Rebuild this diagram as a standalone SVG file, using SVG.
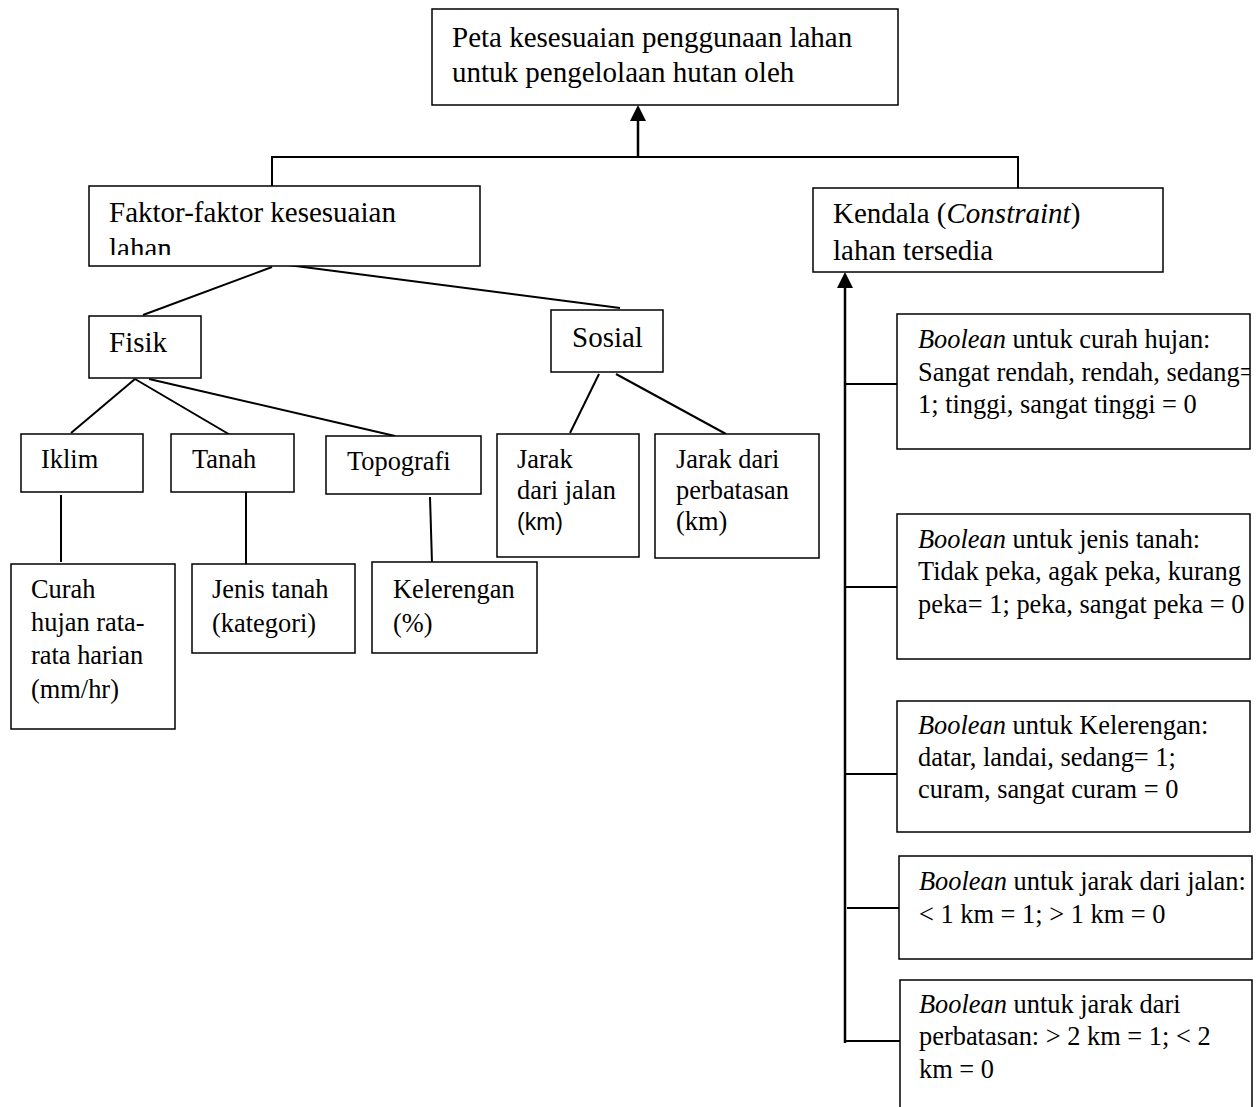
<svg xmlns="http://www.w3.org/2000/svg" width="1258" height="1107" viewBox="0 0 1258 1107">
<style>
  .box { fill: #ffffff; stroke: #000000; stroke-width: 1.5; }
  .big { font-family: "Liberation Serif", "Times New Roman", serif; font-size: 29px; fill: #000; }
  .sm { font-family: "Liberation Serif", "Times New Roman", serif; font-size: 26.4px; fill: #000; }
  .sans { font-family: "Liberation Sans", Arial, sans-serif; font-size: 23px; fill: #000; }
  .it { font-style: italic; }
  .ln { stroke: #000; stroke-width: 2; fill: none; }
  .arr { stroke: #000; stroke-width: 2.5; fill: none; }
  .head { fill: #000; }
</style>
<defs>
  <clipPath id="clipFaktor"><rect x="89" y="186" width="391" height="69"/></clipPath>
  <clipPath id="clipB1"><rect x="897" y="314" width="353" height="135"/></clipPath>
</defs>

<g id="connectors">
  <line class="arr" x1="638" y1="157" x2="638" y2="119"/>
  <polygon class="head" points="638,105 630,121 646,121"/>
  <polyline class="ln" points="272,186 272,157 1018,157 1018,188"/>
  <line class="ln" x1="272" y1="267" x2="143" y2="315"/>
  <line class="ln" x1="288" y1="265" x2="620" y2="308"/>
  <line class="ln" x1="135" y1="379" x2="71" y2="433"/>
  <line class="ln" x1="135" y1="379" x2="232" y2="436"/>
  <line class="ln" x1="149" y1="379" x2="395" y2="436"/>
  <line class="ln" x1="599" y1="374" x2="570" y2="433"/>
  <line class="ln" x1="616" y1="374" x2="726" y2="434"/>
  <line class="ln" x1="61" y1="495" x2="61" y2="562"/>
  <line class="ln" x1="246" y1="492" x2="246" y2="564"/>
  <line class="ln" x1="430" y1="497" x2="432" y2="563"/>
  <line class="arr" x1="845" y1="1043" x2="845" y2="286"/>
  <polygon class="head" points="845,272 837,288 853,288"/>
  <line class="ln" x1="845" y1="384" x2="897" y2="384"/>
  <line class="ln" x1="845" y1="587" x2="897" y2="587"/>
  <line class="ln" x1="845" y1="774" x2="897" y2="774"/>
  <line class="ln" x1="847" y1="908" x2="899" y2="908"/>
  <line class="ln" x1="845" y1="1041" x2="900" y2="1041"/>
</g>

<g id="node-peta">
  <rect class="box" x="432" y="9" width="466" height="96"/>
  <text class="big" x="452" y="47">Peta kesesuaian penggunaan lahan</text>
  <text class="big" x="452" y="82">untuk pengelolaan hutan oleh</text>
</g>

<g id="node-faktor">
  <rect class="box" x="89" y="186" width="391" height="80"/>
  <g clip-path="url(#clipFaktor)">
    <text class="big" x="109" y="222">Faktor-faktor kesesuaian</text>
    <text class="big" x="109" y="258">lahan</text>
  </g>
</g>

<g id="node-kendala">
  <rect class="box" x="813" y="188" width="350" height="84"/>
  <text class="big" x="833" y="223">Kendala (<tspan class="it">Constraint</tspan>)</text>
  <text class="big" x="833" y="260">lahan tersedia</text>
</g>

<g id="node-fisik">
  <rect class="box" x="89" y="316" width="112" height="62"/>
  <text class="big" x="109" y="352">Fisik</text>
</g>

<g id="node-sosial">
  <rect class="box" x="551" y="310" width="112" height="62"/>
  <text class="big" x="572" y="347">Sosial</text>
</g>

<g id="node-iklim">
  <rect class="box" x="21" y="434" width="122" height="58"/>
  <text class="sm" x="41" y="468">Iklim</text>
</g>

<g id="node-tanah">
  <rect class="box" x="171" y="434" width="123" height="58"/>
  <text class="sm" x="192" y="468">Tanah</text>
</g>

<g id="node-topografi">
  <rect class="box" x="326" y="436" width="155" height="58"/>
  <text class="sm" x="347" y="470">Topografi</text>
</g>

<g id="node-jarak-jalan">
  <rect class="box" x="497" y="434" width="142" height="123"/>
  <text class="sm" x="517" y="468">Jarak</text>
  <text class="sm" x="517" y="499">dari jalan</text>
  <text class="sans" x="517" y="530">(km)</text>
</g>

<g id="node-jarak-perbatasan">
  <rect class="box" x="655" y="434" width="164" height="124"/>
  <text class="sm" x="676" y="468">Jarak dari</text>
  <text class="sm" x="676" y="499">perbatasan</text>
  <text class="sm" x="676" y="530">(km)</text>
</g>

<g id="node-curah">
  <rect class="box" x="11" y="564" width="164" height="165"/>
  <text class="sm" x="31" y="598">Curah</text>
  <text class="sm" x="31" y="631">hujan rata-</text>
  <text class="sm" x="31" y="664">rata harian</text>
  <text class="sm" x="31" y="698">(mm/hr)</text>
</g>

<g id="node-jenis">
  <rect class="box" x="192" y="564" width="163" height="89"/>
  <text class="sm" x="212" y="598">Jenis tanah</text>
  <text class="sm" x="212" y="632">(kategori)</text>
</g>

<g id="node-kelerengan">
  <rect class="box" x="372" y="562" width="165" height="91"/>
  <text class="sm" x="393" y="598">Kelerengan</text>
  <text class="sm" x="393" y="632">(%)</text>
</g>

<g id="node-bool-curah">
  <rect class="box" x="897" y="314" width="353" height="135"/>
  <g clip-path="url(#clipB1)">
    <text class="sm" x="918" y="348"><tspan class="it">Boolean</tspan> untuk curah hujan:</text>
    <text class="sm" x="918" y="381">Sangat rendah, rendah, sedang=</text>
    <text class="sm" x="918" y="413">1; tinggi, sangat tinggi = 0</text>
  </g>
</g>

<g id="node-bool-tanah">
  <rect class="box" x="897" y="514" width="353" height="145"/>
  <text class="sm" x="918" y="548"><tspan class="it">Boolean</tspan> untuk jenis tanah:</text>
  <text class="sm" x="918" y="580">Tidak peka, agak peka, kurang</text>
  <text class="sm" x="918" y="613">peka= 1; peka, sangat peka = 0</text>
</g>

<g id="node-bool-lereng">
  <rect class="box" x="897" y="701" width="353" height="131"/>
  <text class="sm" x="918" y="734"><tspan class="it">Boolean</tspan> untuk Kelerengan:</text>
  <text class="sm" x="918" y="766">datar, landai, sedang= 1;</text>
  <text class="sm" x="918" y="798">curam, sangat curam = 0</text>
</g>

<g id="node-bool-jalan">
  <rect class="box" x="899" y="856" width="353" height="103"/>
  <text class="sm" x="919" y="890"><tspan class="it">Boolean</tspan> untuk jarak dari jalan:</text>
  <text class="sm" x="919" y="923">&lt; 1 km = 1; &gt; 1 km = 0</text>
</g>

<g id="node-bool-batas">
  <rect class="box" x="900" y="980" width="352" height="140"/>
  <text class="sm" x="919" y="1013"><tspan class="it">Boolean</tspan> untuk jarak dari</text>
  <text class="sm" x="919" y="1045">perbatasan: &gt; 2 km = 1; &lt; 2</text>
  <text class="sm" x="919" y="1078">km = 0</text>
</g>
</svg>
